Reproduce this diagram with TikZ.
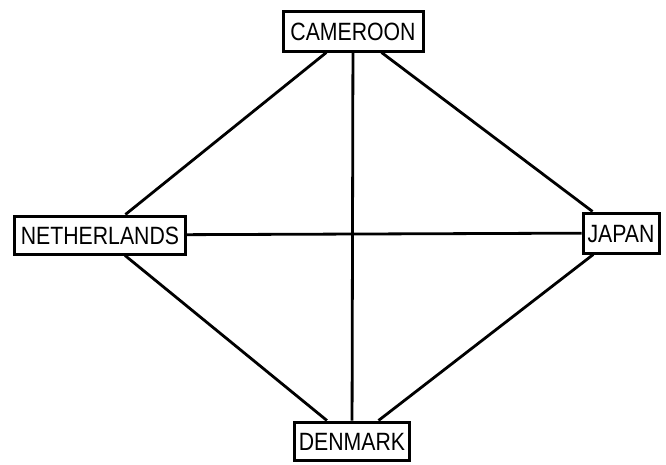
\documentclass[tikz,border=0pt]{standalone}
\usepackage{fontspec}
\setmainfont[FakeStretch=0.85]{Liberation Sans}
\begin{document}
\begin{tikzpicture}[x=1pt,y=-1pt,
  country/.style={draw=black, line width=3pt, fill=white, inner sep=0pt,
    font=\fontsize{25}{25}\selectfont, text height=18pt, text depth=0pt},
  link/.style={draw=black, line width=2.8pt}]
\useasboundingbox (0,0) rectangle (666,464);
\node[country, minimum width=140pt, minimum height=40pt] (cam) at (353,31) {CAMEROON};
\node[country, minimum width=171pt, minimum height=38pt] (net) at (100,235) {NETHERLANDS};
\node[country, minimum width=76pt, minimum height=40pt] (jap) at (621,233) {JAPAN};
\node[country, minimum width=115pt, minimum height=38pt] (den) at (352,441) {DENMARK};
\path[link] (cam) -- (net);
\path[link] (cam) -- (jap);
\path[link] (cam) -- (den);
\path[link] (net) -- (jap);
\path[link] (net) -- (den);
\path[link] (jap) -- (den);
\end{tikzpicture}
\end{document}
